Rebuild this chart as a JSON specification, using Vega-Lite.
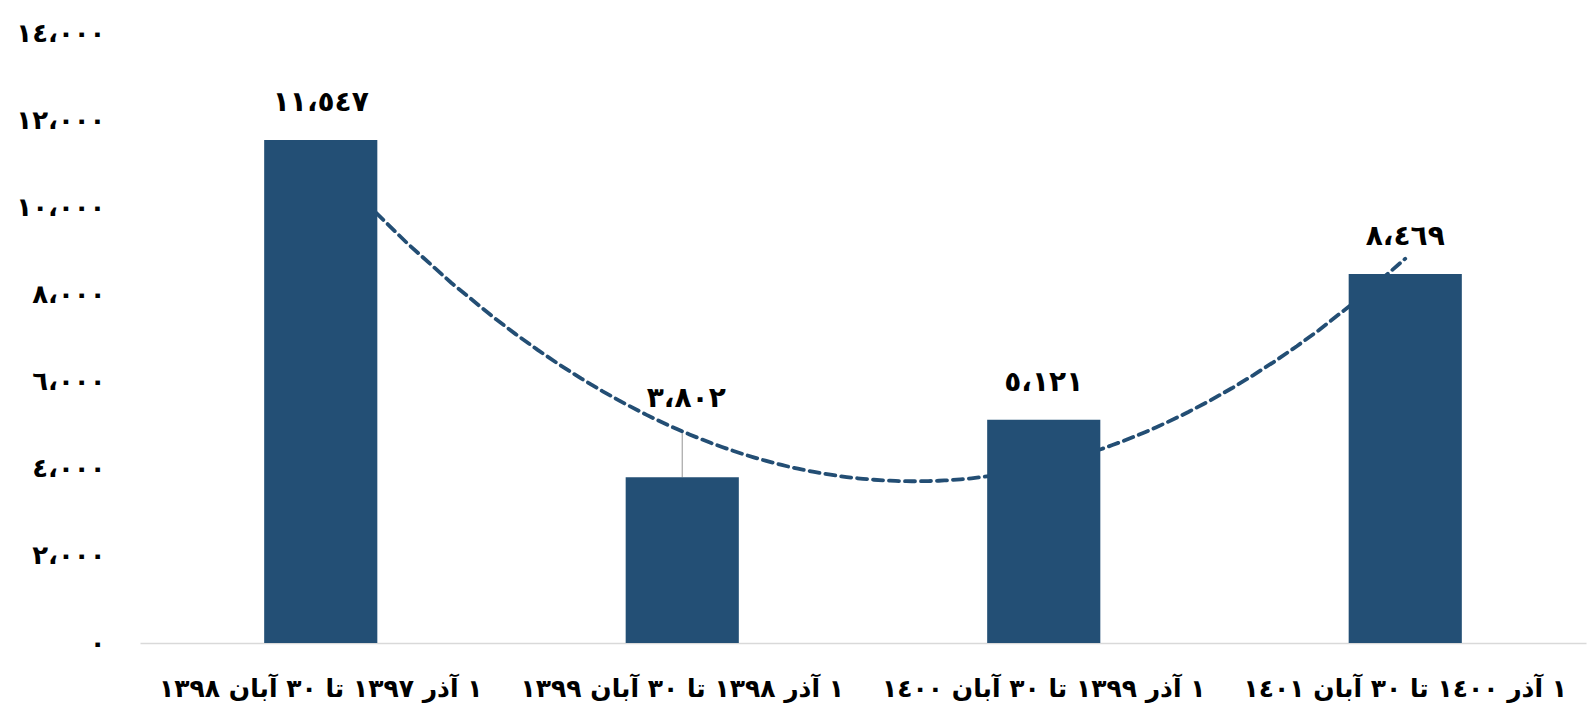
{
  "$schema": "https://vega.github.io/schema/vega-lite/v6.json",
  "width": 1446,
  "height": 610,
  "autosize": {"type": "none"},
  "padding": {"left": 140, "top": 33, "right": 9, "bottom": 71},
  "background": "white",
  "config": {"view": {"stroke": null}, "font": "DejaVu Sans"},
  "data": {
    "values": [
      {"idx": 1, "period": "١ آذر ١٣٩٧ تا ٣٠ آبان ١٣٩٨", "value": 11547, "label": "١١،٥٤٧", "moved": false},
      {"idx": 2, "period": "١ آذر ١٣٩٨ تا ٣٠ آبان ١٣٩٩", "value": 3802, "label": "٣،٨٠٢", "moved": true},
      {"idx": 3, "period": "١ آذر ١٣٩٩ تا ٣٠ آبان ١٤٠٠", "value": 5121, "label": "٥،١٢١", "moved": false},
      {"idx": 4, "period": "١ آذر ١٤٠٠ تا ٣٠ آبان ١٤٠١", "value": 8469, "label": "٨،٤٦٩", "moved": false}
    ]
  },
  "resolve": {"scale": {"x": "independent"}, "axis": {"x": "independent"}},
  "layer": [
    {
      "transform": [
        {"regression": "value", "on": "idx", "method": "poly", "order": 2, "extent": [1, 4]}
      ],
      "mark": {"type": "line", "color": "#234E74", "strokeWidth": 3.8, "strokeDash": [10, 6], "strokeCap": "round", "clip": false},
      "encoding": {
        "x": {"field": "idx", "type": "quantitative", "scale": {"domain": [0.5, 4.5], "nice": false, "zero": false}, "axis": null},
        "y": {"field": "value", "type": "quantitative", "scale": {"domain": [0, 14000], "nice": false}}
      }
    },
    {
      "encoding": {
        "x": {
          "field": "period", "type": "nominal", "sort": {"field": "idx"},
          "scale": {"paddingInner": 0.687, "paddingOuter": 0.3435},
          "axis": {
            "title": null, "labelAngle": 0, "ticks": false,
            "domainColor": "#D9D9D9", "domainWidth": 1.5,
            "labelFont": "DejaVu Sans", "labelFontSize": 25, "labelFontWeight": "bold",
            "labelColor": "#000000", "labelPadding": 33, "labelLimit": 420
          }
        }
      },
      "layer": [
        {
          "transform": [{"filter": "datum.moved"}],
          "mark": {"type": "rule", "color": "#A6A6A6", "strokeWidth": 1.2},
          "encoding": {
            "y": {"field": "value", "type": "quantitative"},
            "y2": {"datum": 4820}
          }
        },
        {
          "mark": {"type": "bar", "color": "#234F75"},
          "encoding": {
            "y": {
              "field": "value", "type": "quantitative",
              "scale": {"domain": [0, 14000], "nice": false},
              "axis": {
                "title": null, "values": [0, 2000, 4000, 6000, 8000, 10000, 12000, 14000],
                "grid": false, "domain": false, "ticks": false,
                "labelExpr": "['٠','٢،٠٠٠','٤،٠٠٠','٦،٠٠٠','٨،٠٠٠','١٠،٠٠٠','١٢،٠٠٠','١٤،٠٠٠'][datum.value/2000]",
                "labelFont": "DejaVu Sans", "labelFontSize": 26, "labelFontWeight": "bold",
                "labelColor": "#000000", "labelPadding": 35
              }
            }
          }
        },
        {
          "transform": [{"filter": "!datum.moved"}],
          "mark": {"type": "text", "fontSize": 28, "fontWeight": "bold", "color": "#000000", "baseline": "middle", "dy": -37, "font": "DejaVu Sans"},
          "encoding": {
            "y": {"field": "value", "type": "quantitative"},
            "text": {"field": "label"}
          }
        },
        {
          "transform": [{"filter": "datum.moved"}],
          "mark": {"type": "text", "fontSize": 28, "fontWeight": "bold", "color": "#000000", "baseline": "middle", "dy": -78, "dx": 4, "font": "DejaVu Sans"},
          "encoding": {
            "y": {"field": "value", "type": "quantitative"},
            "text": {"field": "label"}
          }
        }
      ]
    }
  ]
}
